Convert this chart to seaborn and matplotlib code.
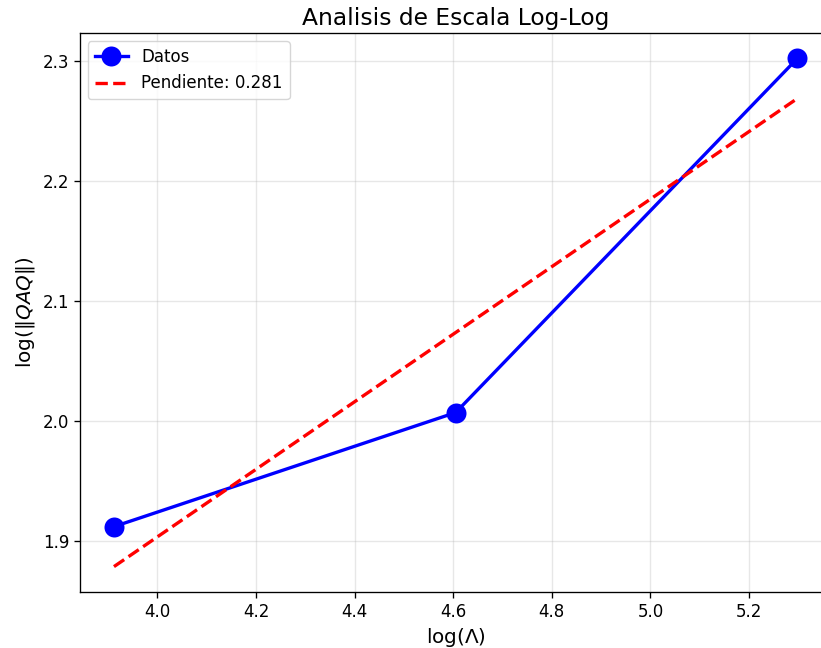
import matplotlib
matplotlib.use('Agg')
import matplotlib.pyplot as plt
import numpy as np
import pandas as pd
import seaborn as sns

# Data: log of Lambda values and log of ||QAQ||
log_lambda = [3.912, 4.605, 5.298]
log_norm = [1.912, 2.007, 2.302]

df = pd.DataFrame({'x': log_lambda, 'y': log_norm})

# Linear fit in log-log space
slope, intercept = np.polyfit(df['x'], df['y'], 1)
fit_y = slope * df['x'] + intercept

scale = 1.2  # reference looks rendered at a slightly higher dpi

fig, ax = plt.subplots(figsize=(8.21, 6.48), dpi=100)
# the reference is cropped on the right, so the axes runs past the edge
fig.subplots_adjust(left=0.0972, right=1.0128, top=0.949, bottom=0.0864)

sns.lineplot(x=df['x'], y=df['y'], ax=ax, color='blue', linewidth=2 * scale,
             marker='o', markersize=12 * scale, markeredgewidth=0, label='Datos')
sns.lineplot(x=df['x'], y=fit_y, ax=ax, color='red', linewidth=2 * scale,
             linestyle='--', label=f'Pendiente: {slope:.3f}')

ax.set_title('Analisis de Escala Log-Log', fontsize=14 * scale)
ax.set_xlabel(r'log($\Lambda$)', fontsize=12 * scale)
ax.set_ylabel(r'log($\|QAQ\|$)', fontsize=12 * scale)
ax.tick_params(labelsize=10 * scale, width=0.8 * scale, length=3.5 * scale)
for spine in ax.spines.values():
    spine.set_linewidth(0.8 * scale)
ax.grid(True, alpha=0.3, linewidth=0.8 * scale)
ax.legend(loc='upper left', fontsize=10 * scale)

plt.savefig('out.png', dpi=100)
